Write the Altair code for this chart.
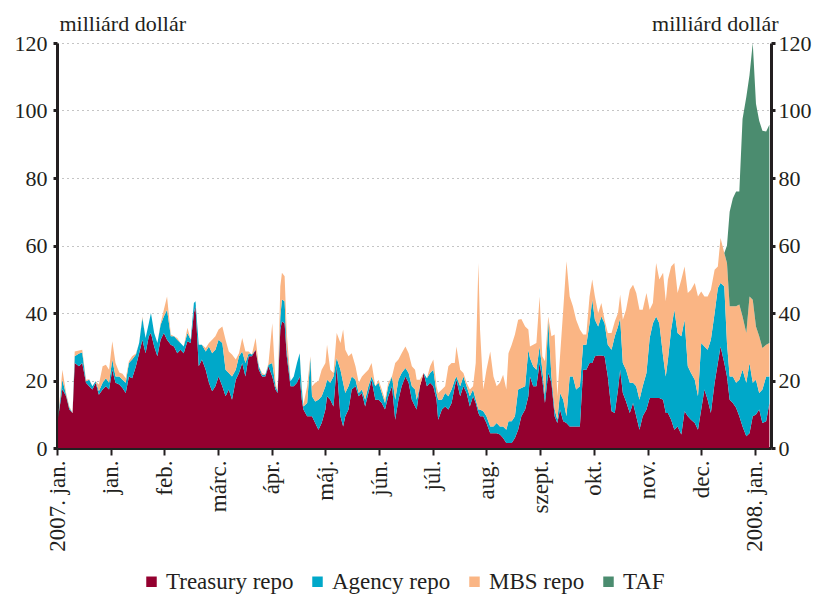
import altair as alt
import pandas as pd

# time in months since the start of the chart (tick 0 = "2007. jan.")
t = [0.02,0.10,0.17,0.23,0.29,0.33,0.41,0.47,0.54,0.60,0.66,0.72,0.78,0.85,0.91,0.97,1.03,1.09,1.16,1.22,1.28,1.34,1.40,1.47,1.53,1.59,1.65,1.71,1.75,1.81,1.87,1.93,1.99,2.05,2.12,2.18,
     2.24,2.30,2.36,2.43,2.49,2.55,2.58,2.64,2.70,2.77,2.83,2.89,2.95,3.01,3.08,3.14,3.20,3.26,3.33,3.39,3.45,3.51,3.57,3.63,3.70,3.76,3.82,3.88,3.94,4.01,4.07,4.11,4.16,4.19,4.24,4.28,4.35,4.41,
     4.47,4.52,4.56,4.59,4.66,4.72,4.75,4.81,4.87,4.93,5.00,5.03,5.09,5.15,5.21,5.28,5.33,5.37,5.43,5.49,5.56,5.62,5.68,5.74,5.80,5.86,5.93,5.99,6.05,6.11,6.17,6.24,6.30,6.36,6.42,6.49,6.55,6.61,6.67,
     6.70,6.76,6.83,6.89,6.95,7.01,7.07,7.10,7.17,7.23,7.29,7.35,7.41,7.44,7.51,7.57,7.63,7.69,7.75,7.80,7.85,7.88,7.94,8.00,8.07,8.13,8.19,8.25,8.31,8.37,8.41,8.47,8.53,8.59,8.65,8.72,8.78,8.81,8.87,
     8.93,8.99,9.04,9.09,9.15,9.21,9.27,9.32,9.37,9.43,9.49,9.55,9.61,9.67,9.74,9.80,9.86,9.92,9.97,10.02,10.08,10.14,10.20,10.26,10.33,10.39,10.45,10.49,10.54,10.60,10.67,10.73,10.79,10.85,10.91,10.98,11.04,11.10,
     11.16,11.22,11.29,11.34,11.38,11.44,11.50,11.56,11.63,11.69,11.75,11.81,11.88,11.94,12.00,12.06,12.12,12.18,12.25,12.31,12.36,12.43,12.48,12.53,12.59,12.65,12.71,12.77,12.84,12.90,12.96,13.02,13.08,13.14,13.21,13.27]

treasury = [8.9,17.5,15.3,11.4,10.4,25.2,24.2,25.2,19.3,18.3,17.3,19.3,15.8,17.3,18.3,17.3,23.2,19.3,18.8,17.8,16.3,21.2,20.7,24.2,28.1,32.1,28.1,33.1,34.1,30.1,27.2,32.1,34.1,32.1,30.6,30.1,
            28.1,29.1,28.1,31.6,31.1,40.0,42.0,24.2,26.2,23.2,19.3,16.8,18.3,21.2,18.3,15.3,17.3,14.3,20.2,22.2,25.2,21.2,27.2,27.2,29.1,23.2,21.2,21.2,24.2,21.2,17.3,16.3,35.1,37.5,37.0,27.2,18.3,18.3,
            19.3,21.2,14.3,11.4,9.4,9.4,9.4,7.4,5.4,7.4,11.4,15.3,14.3,12.3,24.2,9.4,6.4,9.4,11.4,17.3,18.3,15.3,16.3,12.3,16.3,20.2,14.3,14.3,13.3,11.4,15.3,18.3,8.4,14.3,18.3,21.2,19.3,14.3,12.3,
            11.4,18.3,22.2,18.3,19.3,18.3,14.3,8.4,11.4,12.3,11.4,13.3,18.3,20.2,15.3,18.3,16.3,12.3,15.3,13.3,10.4,9.4,9.4,7.4,4.4,4.4,4.4,4.0,3.0,1.5,1.5,1.5,3.0,5.4,9.4,11.4,15.3,21.2,18.3,
            18.3,25.2,20.2,13.3,22.2,19.3,9.4,7.4,11.4,7.9,7.4,6.4,6.4,6.4,6.4,23.2,23.2,25.2,25.2,27.2,27.4,27.4,27.2,21.2,10.9,10.4,17.3,23.2,16.3,13.8,10.4,13.3,9.4,5.4,9.4,11.4,14.8,14.8,
            14.8,14.8,14.3,10.4,10.4,8.4,5.4,6.4,4.0,10.9,9.4,8.4,7.4,5.4,11.4,17.3,14.3,10.4,19.3,25.2,30.1,25.2,21.2,14.3,13.3,11.9,9.4,6.4,3.5,4.4,9.4,9.9,11.4,7.4,7.9,13.3]

agency = [0,2.7,0.5,0.5,0,2.0,3.8,3.1,0.5,1.9,1.0,0.5,1.0,2.0,2.4,2.0,3.0,1.9,2.4,2.4,3.0,4.0,5.5,3.5,3.0,6.4,4.5,3.9,5.9,4.0,3.9,4.4,4.9,8.9,2.5,3.0,
          4.0,2.0,2.0,2.5,1.0,3.0,1.5,6.4,4.4,5.4,10.8,11.3,10.8,10.9,12.8,7.9,4.9,6.9,3.0,5.0,3.4,4.0,0.9,0.5,0,1.0,0.5,0.5,0.5,4.0,1.0,0.5,3.9,6.5,6.5,1.9,1.5,2.9,
          5.9,6.9,3.0,0.9,3.9,17.3,5.9,6.4,8.9,7.9,6.9,4.9,5.0,8.9,2.5,13.8,12.9,6.9,6.9,3.9,1.9,1.0,1.0,2.0,2.0,1.0,4.0,5.0,3.0,1.9,3.0,2.9,5.9,5.9,3.9,2.5,2.9,4.0,5.0,
          2.9,0,0,2.4,2.9,4.9,2.0,5.9,2.9,4.0,3.9,4.0,1.9,1.0,3.0,2.9,2.0,3.0,2.0,1.0,1.0,2.0,1.5,2.0,2.0,2.0,3.0,2.4,3.4,3.9,6.4,6.4,6.4,11.9,8.4,6.9,13.8,5.5,5.9,
          4.9,4.9,3.0,2.0,15.8,1.9,2.0,1.0,4.9,6.4,2.0,14.8,14.8,10.9,11.9,7.4,7.4,11.8,18.8,10.8,8.6,11.6,9.8,9.4,18.2,22.7,18.7,15.3,8.9,9.4,8.9,6.0,8.9,8.9,8.9,10.8,17.8,22.2,
          24.2,22.2,12.9,10.8,15.8,26.7,35.6,27.7,29.1,27.1,14.8,13.8,12.8,9.9,19.7,12.8,14.8,21.7,20.7,22.2,18.8,22.7,9.9,6.9,7.9,7.4,10.8,16.8,15.8,20.8,9.9,10.3,4.9,9.9,13.3,7.9]

mbs = [0,3.0,0.5,0.4,0,1.4,0.9,0.8,0.4,0.2,0,0,2.0,4.9,4.0,3.9,5.4,4.0,1.2,1.8,1.4,0.5,1.0,0.3,0,0.5,0,0,0,0,0,0.5,2.0,3.9,0.5,0,
       0.5,0,0,1.5,0,0,0,0,0,1.0,1.0,4.0,4.0,3.0,4.9,8.9,6.4,6.5,3.0,0.9,4.0,3.4,0.5,0,3.5,0,0.5,0,0.5,11.8,1.0,0,8.9,7.9,7.4,5.0,0,0,
       0,0,1.0,0.5,5.0,0.5,3.0,5.5,5.5,7.9,6.9,10.4,3.9,1.0,7.4,7.9,15.8,12.8,8.9,6.9,4.0,3.0,3.9,7.9,4.9,4.0,0,0.9,1.0,1.0,1.0,0,10.9,6.0,5.9,6.4,5.9,5.9,5.9,
       5.9,1.9,0,0,2.0,3.0,2.0,2.0,3.0,2.0,8.9,7.9,5.0,8.9,4.9,1.0,1.0,2.0,1.0,10.9,43.4,23.7,6.4,13.8,22.2,14.8,10.9,12.9,15.3,11.9,20.2,22.7,24.2,20.7,20.4,17.7,6.0,3.4,6.4,
       7.9,14.8,4.0,10.4,1.0,11.9,22.2,6.9,10.9,26.7,45.9,23.7,20.8,20.7,16.8,3.0,3.0,7.9,5.9,6.9,4.0,4.0,1.0,3.5,5.0,4.4,4.0,6.9,12.8,17.8,27.6,29.1,27.6,26.7,22.7,23.7,8.4,6.0,
       15.8,12.9,24.7,22.3,23.7,18.7,13.8,11.8,16.8,15.8,21.7,24.7,28.7,29.6,15.3,14.8,15.8,14.8,12.8,6.4,13.3,9.9,23.7,20.8,20.8,22.7,22.3,15.8,14.8,19.7,24.6,15.8,16.8,12.3,9.4,9.9]

# TAF only exists at the end of the period
taf_t = [12.43,12.48,12.53,12.59,12.65,12.71,12.77,12.84,12.90,12.96,13.02,13.08,13.14,13.21,13.27]
taf = [0,5.2,28.0,32.0,34.0,33.5,58.5,69.9,65.6,76.1,66.0,63.9,64.4,63.2,64.7]

series_names = ["Treasury repo", "Agency repo", "MBS repo", "TAF"]
series_colors = ["#94002F", "#00A8C9", "#FAB584", "#4B8C6F"]
month_labels = ["2007. jan.", "jan.", "feb.", "márc.", "ápr.", "máj.", "jún.", "júl.",
                "aug.", "szept.", "okt.", "nov.", "dec.", "2008. jan."]
y_ticks = [0, 20, 40, 60, 80, 100, 120]

for name, arr in [("treasury", treasury), ("agency", agency), ("mbs", mbs)]:
    if len(arr) != len(t):
        raise SystemExit(f"{name}: {len(arr)} vs t {len(t)}")

rows = []
for k, (name, vals, xs) in enumerate([
        ("Treasury repo", treasury, t), ("Agency repo", agency, t),
        ("MBS repo", mbs, t), ("TAF", taf, taf_t)]):
    for x, v in zip(xs, vals):
        rows.append({"t": x, "value": v, "series": name, "k": k})
df = pd.DataFrame(rows)

FONT = "Liberation Serif"
TXT = "#231F20"
FS = 22
FSX = 23

label_expr = "[" + ",".join("'" + s + "'" for s in month_labels) + "][datum.value]"

x_axis = alt.Axis(values=list(range(len(month_labels))), labelExpr=label_expr,
                  labelAngle=270, labelAlign="right", labelBaseline="middle",
                  labelFont=FONT, labelFontSize=FSX, labelColor=TXT, labelPadding=5,
                  labelFlush=False, labelOverlap=False,
                  tickSize=7, tickWidth=2, tickColor=TXT,
                  domainColor=TXT, domainWidth=3, grid=False, title=None)

y_left = alt.Axis(values=y_ticks, orient="left", grid=True, gridDash=[1, 4], gridColor="#8a8a8a",
                  gridWidth=1, labelFont=FONT, labelFontSize=FS, labelColor=TXT, labelPadding=6,
                  tickSize=4, tickWidth=3, tickColor=TXT, domainColor=TXT, domainWidth=3,
                  title="milliárd dollár", titleAngle=0, titleAlign="left", titleBaseline="alphabetic",
                  titleX=2, titleY=-13, titleFont=FONT, titleFontSize=FS, titleFontWeight="normal",
                  titleColor=TXT)

y_right = alt.Axis(values=y_ticks, orient="right", grid=False, labelFont=FONT, labelFontSize=FS,
                   labelColor=TXT, labelPadding=3, tickSize=4, tickWidth=3, tickColor=TXT,
                   domainColor=TXT, domainWidth=3,
                   title="milliárd dollár", titleAngle=0, titleAlign="right", titleBaseline="alphabetic",
                   titleX=7, titleY=-13, titleFont=FONT, titleFontSize=FS, titleFontWeight="normal",
                   titleColor=TXT)

yscale = alt.Scale(domain=[0, 120], nice=False, zero=True)

areas = alt.Chart(df).mark_area(interpolate="linear").encode(
    x=alt.X("t:Q", scale=alt.Scale(domain=[0, 13.3], nice=False, zero=False), axis=x_axis),
    y=alt.Y("value:Q", stack="zero", scale=yscale, axis=y_left),
    color=alt.Color("series:N",
                    scale=alt.Scale(domain=series_names, range=series_colors),
                    legend=alt.Legend(orient="none", legendX=83, legendY=527, direction="horizontal",
                                      title=None, symbolType="square", symbolSize=110,
                                      symbolStrokeWidth=0, labelFont=FONT, labelFontSize=FSX,
                                      labelColor=TXT, labelOffset=3, columnPadding=12)),
    order=alt.Order("k:Q", sort="ascending"),
)

axis_df = pd.DataFrame({"v": [0, 120]})
right = alt.Chart(axis_df).mark_point(opacity=0).encode(
    y=alt.Y("v:Q", scale=yscale, axis=y_right)
)

chart = alt.layer(areas, right).resolve_scale(y="independent").resolve_axis(y="independent").properties(
    width=714, height=405,
    padding={"left": 49, "top": 35, "right": 42, "bottom": 148},
    autosize=alt.AutoSizeParams(type="none"),
).configure_view(stroke=None)

chart.save("out.html", embed_options={"renderer": "svg", "actions": False})
